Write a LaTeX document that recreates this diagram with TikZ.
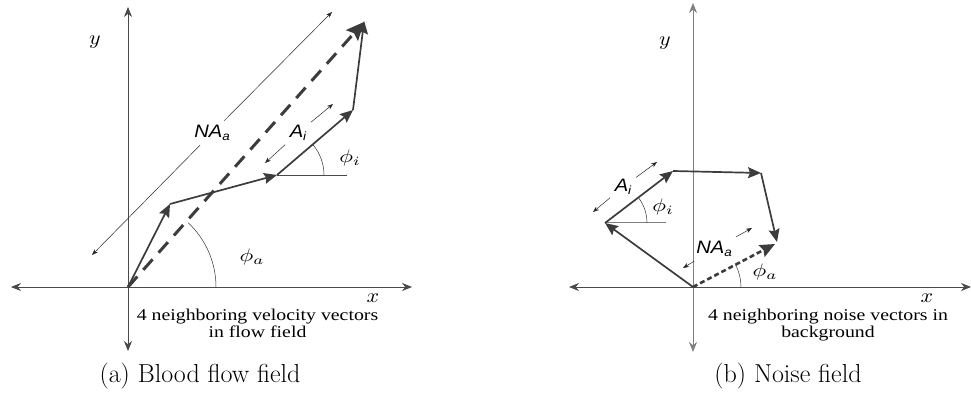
\documentclass[tikz,border=0pt]{standalone}
\usepackage{fontspec}
\usetikzlibrary{arrows.meta}
\newfontfamily\lserif{Liberation Serif}
\newfontfamily\lsans{Liberation Sans}
\definecolor{vec}{HTML}{3C3C3C}
\definecolor{ax}{HTML}{4A4A4A}
\definecolor{axl}{HTML}{808080}
\tikzset{
  axis/.style={draw=ax, line width=0.8pt, {Stealth[length=10pt,width=8pt]}-{Stealth[length=10pt,width=8pt]}},
  vecarrow/.style={draw=vec, line width=1.7pt, -{Stealth[length=13pt,width=11pt,inset=2pt]}},
  resultA/.style={draw=vec, line width=3pt, dash pattern=on 14pt off 9pt, -{Stealth[length=18pt,width=16pt,inset=3pt]}},
  resultB/.style={draw=vec, line width=2.6pt, dash pattern=on 5pt off 3pt, -{Stealth[length=15pt,width=13pt,inset=2pt]}},
  dimline/.style={draw=black!85, line width=0.5pt, -{Stealth[length=6pt,width=4.5pt]}},
  refline/.style={draw=ax, line width=0.7pt},
  anglearc/.style={draw=black!80, line width=0.5pt},
  greek/.style={xscale=2.3, yscale=1.8, transform shape, inner sep=1pt},
  axlabel/.style={xscale=2.2, yscale=2.0, transform shape, inner sep=1pt},
  dimlabel/.style={font=\lsans\itshape\fontsize{18}{18}\selectfont, xscale=1.12, transform shape, inner sep=4pt},
  note/.style={font=\lserif\fontsize{16.5}{17}\selectfont, align=center, xscale=1.2, transform shape, anchor=base, inner sep=0pt},
  caption/.style={font=\fontsize{26}{30}\selectfont, anchor=base, inner sep=0pt}
}
\newcommand{\subsc}[1]{\raisebox{-0.35ex}{\fontsize{12}{12}\selectfont #1}}
\begin{document}
\begin{tikzpicture}[x=1pt,y=-1pt]
\useasboundingbox (0,0) rectangle (971,395);

% ---------------- (a) Blood flow field ----------------
\coordinate (aO) at (128,287);
\coordinate (aYt) at (128,7);
\coordinate (aYb) at (128,351);
\coordinate (aXl) at (11,287);
\coordinate (aXr) at (412,287);
\coordinate (aP1) at (170,204);
\coordinate (aP2) at (277,175);
\coordinate (aP3) at (353,110);
\coordinate (aP4) at (364,22);
\coordinate (aHr) at (347,175);

\draw[axis] (aXl) -- (aXr);
\draw[axis] (aYb) -- (aYt);

% angle phi_a
\draw[anglearc] (aO) ++(88pt,0) arc[start angle=0, end angle=47, radius=88pt];
% reference line and angle phi_i
\draw[refline] (aP2) -- (aHr);
\draw[anglearc] (aP2) ++(47pt,0) arc[start angle=0, end angle=40, radius=47pt];

% resultant
\draw[resultA] (aO) -- (aP4);
% vectors
\draw[vecarrow] (aO) -- (aP1);
\draw[vecarrow] (aP1) -- (aP2);
\draw[vecarrow] (aP2) -- (aP3);
\draw[vecarrow, shorten >=-1pt] (aP3) -- (aP4);

% dimension NA_a
\coordinate (aN1) at (92,255);
\coordinate (aN2) at (332,12);
\node[dimlabel] (aNAlab) at (212,133) {NA\subsc{a}};
\draw[dimline] (aNAlab) -- (aN1);
\draw[dimline] (aNAlab) -- (aN2);
% dimension A_i
\coordinate (aA1) at (265,163);
\coordinate (aA2) at (333,104);
\node[dimlabel] (aAlab) at (298,133) {A\subsc{i}};
\draw[dimline] (aAlab) -- (aA1);
\draw[dimline] (aAlab) -- (aA2);

\node[axlabel] (aylab) at (95,42) {$y$};
\node[axlabel] (axlab) at (373,298) {$x$};
\node[greek] (aphii) at (350,158) {$\phi_i$};
\node[greek] (aphia) at (252,257) {$\phi_a$};

\node[note] (anote) at (257.5,337) {4 neighboring velocity vectors\\in flow field};
\node[caption] (acap) at (200,382) {(a) Blood flow field};

% ---------------- (b) Noise field ----------------
\coordinate (bO) at (693,287);
\coordinate (bYt) at (693,3);
\coordinate (bYb) at (693,352);
\coordinate (bXl) at (569,287);
\coordinate (bXr) at (971,287);
\coordinate (bP1) at (605,223);
\coordinate (bP2) at (673,171);
\coordinate (bP3) at (761,173);
\coordinate (bP4) at (777,242);
\coordinate (bHr) at (666,223);

\draw[axis] (bXl) -- (bXr);
\draw[axis, draw=axl] (bYb) -- (bYt);

\draw[anglearc] (bO) ++(48pt,0) arc[start angle=0, end angle=28, radius=48pt];
\draw[refline, draw=axl, line width=1pt] (bP1) -- (bHr);
\draw[anglearc] (bP1) ++(42pt,0) arc[start angle=0, end angle=37, radius=42pt];

\draw[resultB] (bO) -- (775,244);
\draw[vecarrow] (bO) -- (bP1);
\draw[vecarrow] (bP1) -- (bP2);
\draw[vecarrow] (bP2) -- (bP3);
\draw[vecarrow] (bP3) -- (bP4);

\coordinate (bN1) at (683,268);
\coordinate (bN2) at (752,228);
\node[dimlabel] (bNAlab) at (714,249) {NA\subsc{a}};
\draw[dimline] (bNAlab) -- (bN1);
\draw[dimline] (bNAlab) -- (bN2);
\coordinate (bA1) at (593,212);
\coordinate (bA2) at (657,162);
\node[dimlabel] (bAlab) at (623,187) {A\subsc{i}};
\draw[dimline] (bAlab) -- (bA1);
\draw[dimline] (bAlab) -- (bA2);

\node[axlabel] (bylab) at (665,43) {$y$};
\node[axlabel] (bxlab) at (927,298) {$x$};
\node[greek] (bphii) at (663,207) {$\phi_i$};
\node[greek] (bphia) at (765,272) {$\phi_a$};

\node[note] (bnote) at (828,337) {4 neighboring noise vectors in\\background};
\node[caption] (bcap) at (788,382) {(b) Noise field};
\end{tikzpicture}
\end{document}
